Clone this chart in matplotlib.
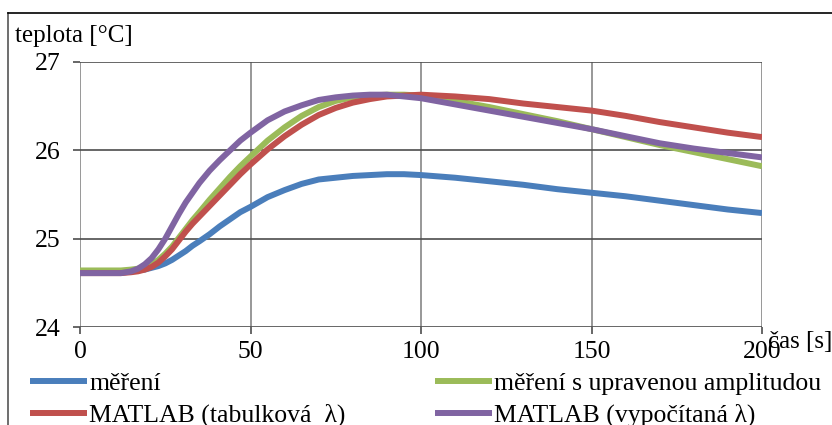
import matplotlib.pyplot as plt
from matplotlib.lines import Line2D

plt.rcParams['font.family'] = ['Liberation Serif', 'DejaVu Serif']

# time [s]
t = [0, 5, 10, 12, 15, 17, 19, 21, 23, 25, 27, 29, 31, 33, 35, 38, 41, 44, 47,
     50, 55, 60, 65, 70, 75, 80, 85, 90, 95, 100,
     110, 120, 130, 140, 150, 160, 170, 180, 190, 200]

# teplota [°C]
mereni = [24.62, 24.62, 24.62, 24.62, 24.63, 24.64, 24.65, 24.67, 24.69, 24.72,
          24.76, 24.81, 24.86, 24.92, 24.97, 25.05, 25.14, 25.22, 25.30,
          25.36, 25.47, 25.55, 25.62, 25.67, 25.69, 25.71, 25.72, 25.73, 25.73, 25.72,
          25.69, 25.65, 25.61, 25.56, 25.52, 25.48, 25.43, 25.38, 25.33, 25.29]
mereni_upr = [24.64, 24.64, 24.64, 24.64, 24.65, 24.66, 24.68, 24.71, 24.76, 24.83,
              24.91, 25.01, 25.11, 25.21, 25.30, 25.44, 25.57, 25.70, 25.82,
              25.93, 26.11, 26.26, 26.39, 26.49, 26.56, 26.60, 26.62, 26.63, 26.63, 26.62,
              26.56, 26.49, 26.41, 26.33, 26.24, 26.15, 26.06, 25.98, 25.90, 25.82]
matlab_tab = [24.61, 24.61, 24.61, 24.61, 24.62, 24.63, 24.65, 24.68, 24.73, 24.80,
              24.88, 24.98, 25.08, 25.17, 25.25, 25.37, 25.49, 25.61, 25.73,
              25.84, 26.01, 26.16, 26.29, 26.40, 26.48, 26.54, 26.58, 26.61, 26.62, 26.63,
              26.61, 26.58, 26.53, 26.49, 26.45, 26.39, 26.32, 26.26, 26.20, 26.15]
matlab_vyp = [24.61, 24.61, 24.61, 24.61, 24.63, 24.66, 24.71, 24.78, 24.88, 25.00,
              25.14, 25.28, 25.41, 25.52, 25.63, 25.77, 25.89, 26.00, 26.11,
              26.20, 26.34, 26.44, 26.51, 26.57, 26.60, 26.62, 26.63, 26.63, 26.61, 26.59,
              26.52, 26.45, 26.38, 26.31, 26.24, 26.16, 26.08, 26.02, 25.97, 25.92]

labels = ["měření", "MATLAB (tabulková  λ)",
          "měření s upravenou amplitudou", "MATLAB (vypočítaná λ)"]

fig = plt.figure(figsize=(8.32, 4.25), dpi=100)
ax = fig.add_axes([80/832, 1 - 327/425, 682/832, 265/425])

lw = 4.3
kw = dict(lw=lw, solid_capstyle="butt", solid_joinstyle="round")
l1, = ax.plot(t, mereni, color="#4A7EBB", **kw)
l3, = ax.plot(t, mereni_upr, color="#9BBB59", **kw)
l2, = ax.plot(t, matlab_tab, color="#C0504D", **kw)
l4, = ax.plot(t, matlab_vyp, color="#8064A2", **kw)

ax.set_xlim(0, 200)
ax.set_ylim(24, 27)
ax.set_xticks([0, 50, 100, 150, 200])
ax.set_yticks([24, 25, 26, 27])

# grid
for x in [0, 50, 100, 150, 200]:
    ax.axvline(x, color="#868686", lw=1.2, zorder=0)
for y in [24, 25, 26, 27]:
    ax.axhline(y, color="#4D4D4D", lw=1.2, zorder=0)

for s in ax.spines.values():
    s.set_visible(False)

ax.tick_params(axis="both", labelsize=18.5, color="#4D4D4D", width=1.2, length=5)
ax.tick_params(axis="y", pad=9)
ax.tick_params(axis="x", pad=5)

fig.text(15/832, 1 - 36/425, "teplota [°C]", fontsize=18, va="center", ha="left")
fig.text(768/832, 1 - 342/425, "čas [s]", fontsize=18, va="center", ha="left")

fig.legend([l1, l2, l3, l4], labels, ncol=2, frameon=False, fontsize=18.5,
           loc="upper left", bbox_to_anchor=(30/832, 1 - 372/425),
           handlelength=2.2, handletextpad=0.1, labelspacing=0.35,
           columnspacing=3.5, borderpad=0, borderaxespad=0)

# chart frame (cut off at right and bottom)
fig.add_artist(Line2D([8/832, 8/832], [0, 1 - 13/425], color="#555555", lw=1.2))
fig.add_artist(Line2D([8/832, 1], [1 - 13/425, 1 - 13/425], color="black", lw=1.2))

fig.savefig("out.png", dpi=100)
